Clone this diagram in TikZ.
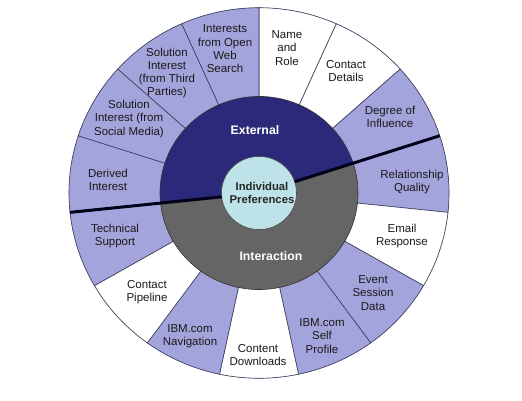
\documentclass[tikz,border=0pt]{standalone}
\usepackage{fontspec}
\setmainfont{Liberation Sans}
\usepackage{tikz}
\usetikzlibrary{calc}

\definecolor{lavender}{HTML}{A4A4DC}
\definecolor{extblue}{HTML}{2B2A7A}
\definecolor{intgrey}{HTML}{656565}
\definecolor{corecyan}{HTML}{BDE3E8}
\definecolor{rimline}{HTML}{3C3C5C}

\tikzset{
    seglabel/.style={align=center, text=black!90, font=\fontsize{11.5}{13.3}\selectfont},
    ringlabel/.style={align=center, text=white, font=\fontsize{12.3}{14}\selectfont\bfseries},
    corelabel/.style={align=center, text=black!85, font=\fontsize{11.3}{13.3}\selectfont\bfseries}
}

\begin{document}
\begin{tikzpicture}[x=1pt,y=1pt]
    \useasboundingbox[fill=white] (0,0) rectangle (522,400);

    \begin{scope}[shift={(259,207)}, yscale=0.975]
        % outer ring, one wedge of 24 degrees each, clockwise from the top
        \draw[rimline!70, fill=white] (0,0) circle (190);
        \foreach \i/\col in {0/white,1/white,2/lavender,3/lavender,4/white,5/lavender,6/lavender,7/white,
                             8/lavender,9/white,10/lavender,11/lavender,12/lavender,13/lavender,14/lavender}
        {
            \filldraw[fill=\col, draw=rimline, line width=0.6pt]
                (90-24*\i:99) -- (90-24*\i:190)
                arc[start angle=90-24*\i, end angle=66-24*\i, radius=190]
                -- (66-24*\i:99) -- cycle;
        }

        % middle ring
        \filldraw[fill=extblue, draw=black!80, line width=0.6pt]
            (0,0) -- (18:99) arc[start angle=18, end angle=186, radius=99] -- cycle;
        \filldraw[fill=intgrey, draw=black!80, line width=0.6pt]
            (0,0) -- (186:99) arc[start angle=186, end angle=378, radius=99] -- cycle;

        % core
        \filldraw[fill=corecyan, draw=black!70, line width=0.6pt] (0,0) circle (37.5);

        % the two dividers
        \coordinate (divR1) at (18:37.5);
        \coordinate (divR2) at (18:190);
        \coordinate (divL1) at (186:37.5);
        \coordinate (divL2) at (186:190);
        \draw[line width=3pt, black!90!blue] (divR1) -- (divR2);
        \draw[line width=3pt, black!90!blue] (divL1) -- (divL2);
    \end{scope}

    % texts
    \node[corelabel] (core) at (262,207) {Individual\\Preferences};
    \node[ringlabel] (external) at (255,270) {External};
    \node[ringlabel] (interaction) at (271,144) {Interaction};

    \node[seglabel] (name) at (287,352) {Name\\and\\Role};
    \node[seglabel] (contact) at (346,329) {Contact\\Details};
    \node[seglabel] (degree) at (390,283) {Degree of\\Influence};
    \node[seglabel] (relation) at (412,218) {Relationship\\Quality};
    \node[seglabel] (email) at (402,164) {Email\\Response};
    \node[seglabel] (event) at (373,107) {Event\\Session\\Data};
    \node[seglabel] (selfprof) at (322,64) {IBM.com\\Self\\Profile};
    \node[seglabel] (downloads) at (258,45) {Content\\Downloads};
    \node[seglabel] (navig) at (190,64) {IBM.com\\Navigation};
    \node[seglabel] (pipeline) at (147,108) {Contact\\Pipeline};
    \node[seglabel] (support) at (115,164) {Technical\\Support};
    \node[seglabel] (derived) at (108,220) {Derived\\Interest};
    \node[seglabel] (social) at (129,281) {Solution\\Interest (from\\Social Media)};
    \node[seglabel] (third) at (167,327) {Solution\\Interest\\(from Third\\Parties)};
    \node[seglabel] (openweb) at (225,351) {Interests\\from Open\\Web\\Search};

\end{tikzpicture}
\end{document}
